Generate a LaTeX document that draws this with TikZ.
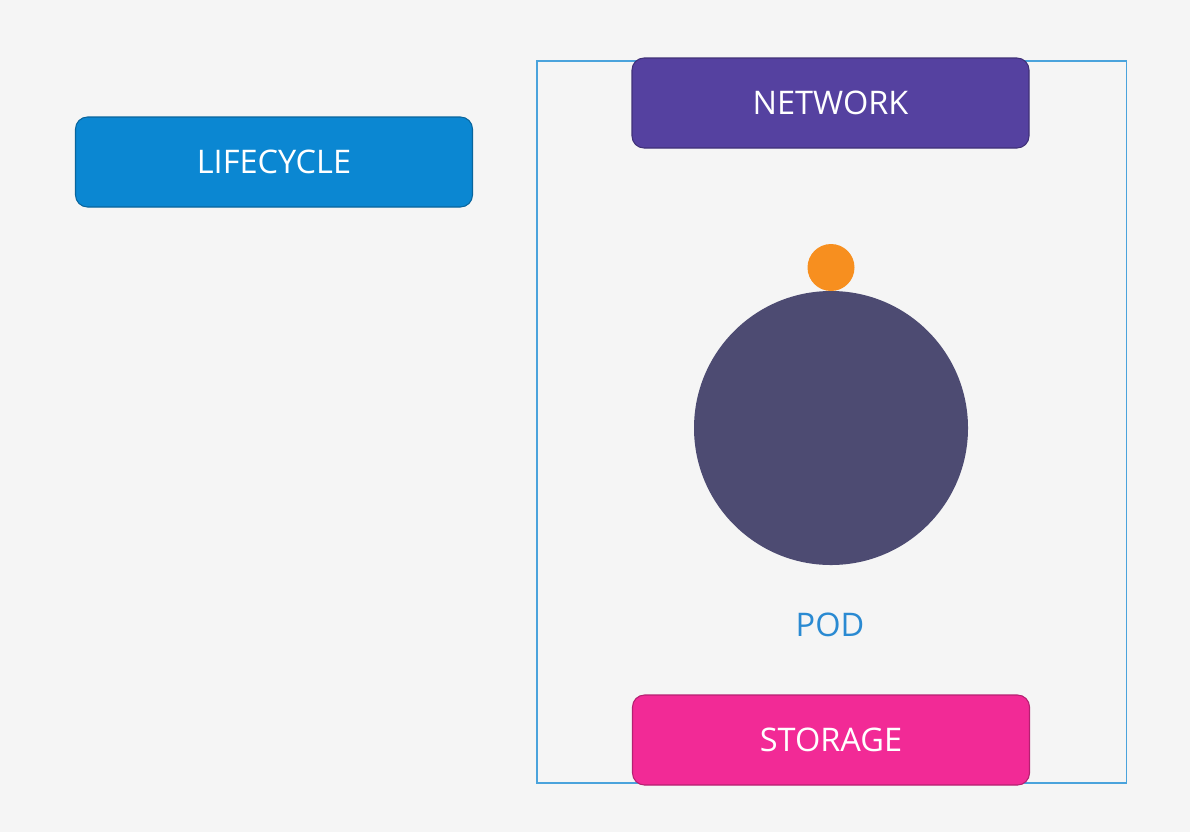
\documentclass[tikz,border=0pt]{standalone}
\usepackage{fontspec}
\setmainfont{Open Sans}
\usetikzlibrary{positioning}

\definecolor{bgcol}{HTML}{F5F5F5}
\definecolor{lifeblue}{HTML}{0B87D2}
\definecolor{netpurple}{HTML}{5541A0}
\definecolor{storepink}{HTML}{F22A96}
\definecolor{podgray}{HTML}{4D4B72}
\definecolor{ctrorange}{HTML}{F78F1F}
\definecolor{framecol}{HTML}{4AA3DC}
\definecolor{labelblue}{HTML}{2A8AD2}

\begin{document}
\begin{tikzpicture}[
  x=0.2mm, y=-0.2mm,
  box/.style={draw=#1!75!black, fill=#1, line width=0.6pt,
    rounded corners=2.4mm, minimum width=79.4mm, minimum height=18mm,
    text=white, font=\fontsize{18.5}{22}\selectfont},
  dot/.style={circle, fill=#1, inner sep=0pt, outer sep=0pt},
]
% Background
\fill[bgcol] (0, 0) rectangle (1190, 832);
\useasboundingbox (0, 0) rectangle (1190, 832);

% Pod frame
\node[draw=framecol, line width=0.6pt, minimum width=117.8mm,
      minimum height=144.4mm, inner sep=0pt] (frame) at (831.5, 422) {};

% Boxes
\node[box=lifeblue] (lifecycle) at (274, 162) {LIFECYCLE};
\node[box=netpurple] (network) at (830.5, 103) {NETWORK};
\node[box=storepink] (storage) at (831, 740) {STORAGE};

% Pod and container
\node[dot=podgray, minimum size=54.8mm] (pod) at (831, 428) {};
\node[dot=ctrorange, minimum size=9.4mm, above=0pt of pod] (container) {};

% Label
\node[text=labelblue, font=\fontsize{18.5}{22}\selectfont] (podlabel)
  at (830, 625) {POD};
\end{tikzpicture}
\end{document}
